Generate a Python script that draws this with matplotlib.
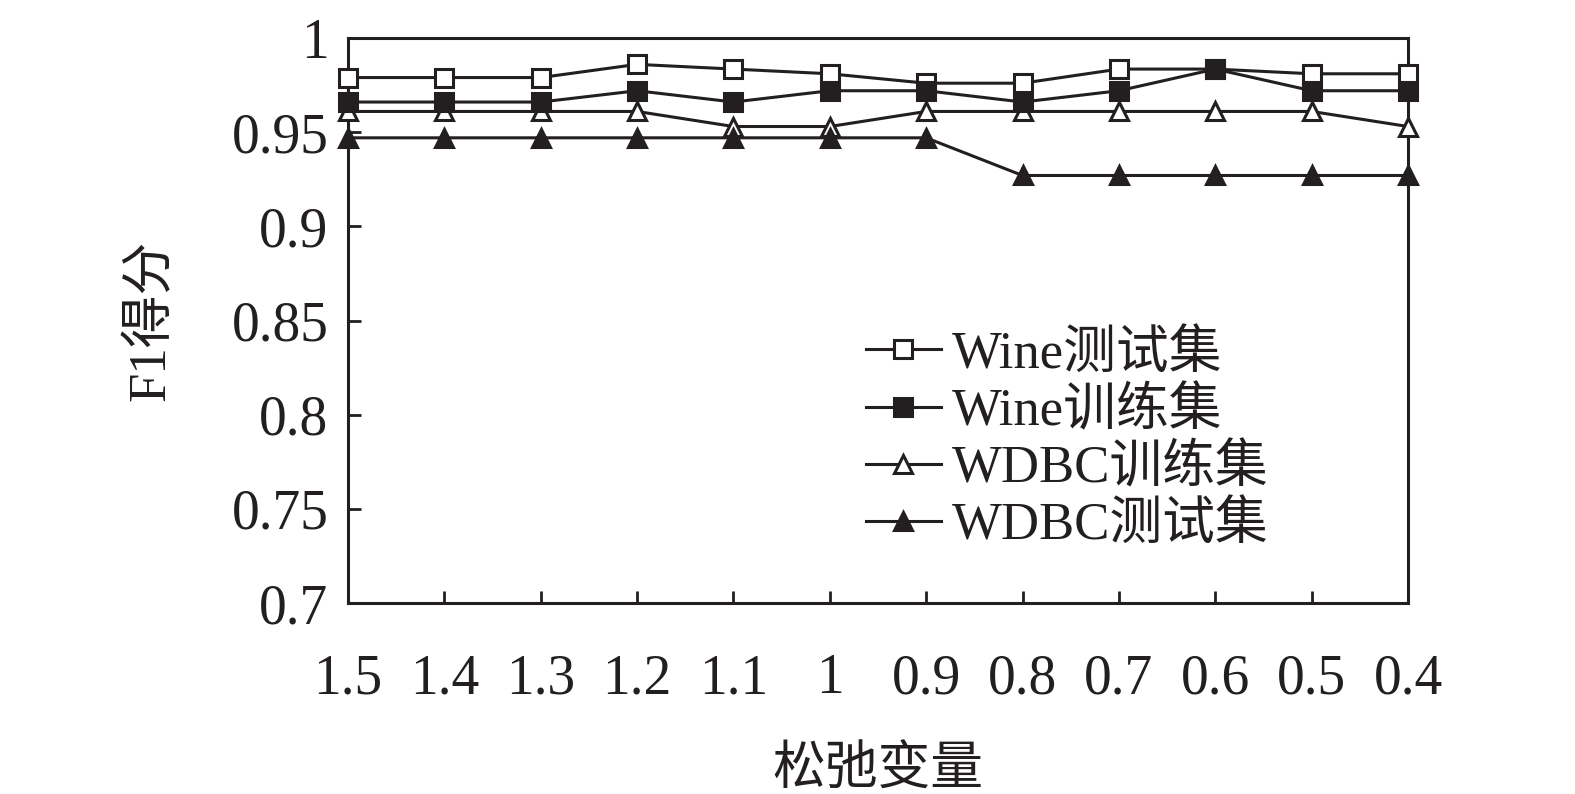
import matplotlib
matplotlib.use("Agg")
import matplotlib.pyplot as plt

plt.rcParams['font.family'] = ['Liberation Serif', 'Noto Sans CJK SC']

x_labels = ['1.5', '1.4', '1.3', '1.2', '1.1', '1', '0.9', '0.8', '0.7', '0.6', '0.5', '0.4']
wine_test = [0.979, 0.979, 0.979, 0.986, 0.9835, 0.981, 0.976, 0.976, 0.9835, 0.9835, 0.981, 0.981]
wine_train = [0.966, 0.966, 0.966, 0.972, 0.966, 0.972, 0.972, 0.966, 0.972, 0.9835, 0.972, 0.972]
wdbc_train = [0.961, 0.961, 0.961, 0.961, 0.953, 0.953, 0.961, 0.961, 0.961, 0.961, 0.961, 0.953]
wdbc_test = [0.947, 0.947, 0.947, 0.947, 0.947, 0.947, 0.947, 0.927, 0.927, 0.927, 0.927, 0.927]
y_ticks = [0.7, 0.75, 0.8, 0.85, 0.9, 0.95, 1.0]
y_tick_labels = ['0.7', '0.75', '0.8', '0.85', '0.9', '0.95', '1']

fig = plt.figure(figsize=(15.75, 7.94), dpi=100)
ax = fig.add_axes([348/1575, 1-603/794, (1408-348)/1575, (603-38)/794])

xs = list(range(len(x_labels)))
lw = 2.2
ms = 13
mew = 2.2
c = '#231f20'
ax.plot(xs, wine_test, color=c, lw=lw, marker='s', ms=ms, mfc='white', mec=c, mew=mew, label='Wine测试集', clip_on=False, zorder=3)
ax.plot(xs, wine_train, color=c, lw=lw, marker='s', ms=ms, mfc=c, mec=c, mew=mew, label='Wine训练集', clip_on=False, zorder=4)
ax.plot(xs, wdbc_train, color=c, lw=lw, marker='^', ms=ms, mfc='white', mec=c, mew=mew, label='WDBC训练集', clip_on=False, zorder=3)
ax.plot(xs, wdbc_test, color=c, lw=lw, marker='^', ms=ms, mfc=c, mec=c, mew=mew, label='WDBC测试集', clip_on=False, zorder=3)

ax.set_xlim(0, len(x_labels)-1)
ax.set_ylim(0.7, 1.0)
ax.set_xticks(xs)
ax.set_xticklabels(x_labels)
ax.set_yticks(y_ticks)
ax.set_yticklabels(y_tick_labels)
ax.tick_params(direction='in', length=9, width=2, labelsize=40, colors=c)
ax.tick_params(axis='y', pad=14)
ax.tick_params(axis='x', pad=36)
for s in ax.spines.values():
    s.set_linewidth(2.2)
    s.set_color(c)

ax.set_xlabel('松弛变量', fontsize=38, color=c, labelpad=30)
ax.set_ylabel('F1得分', fontsize=38, color=c, labelpad=40)

leg = ax.legend(loc='upper left', bbox_to_anchor=((866-348)/1060, (603-330)/565), frameon=False,
                fontsize=38, handlelength=1.42, handletextpad=0.2, labelspacing=0.15,
                borderpad=0, borderaxespad=0)
for t in leg.get_texts():
    t.set_color(c)

fig.savefig('out.png', dpi=100)
